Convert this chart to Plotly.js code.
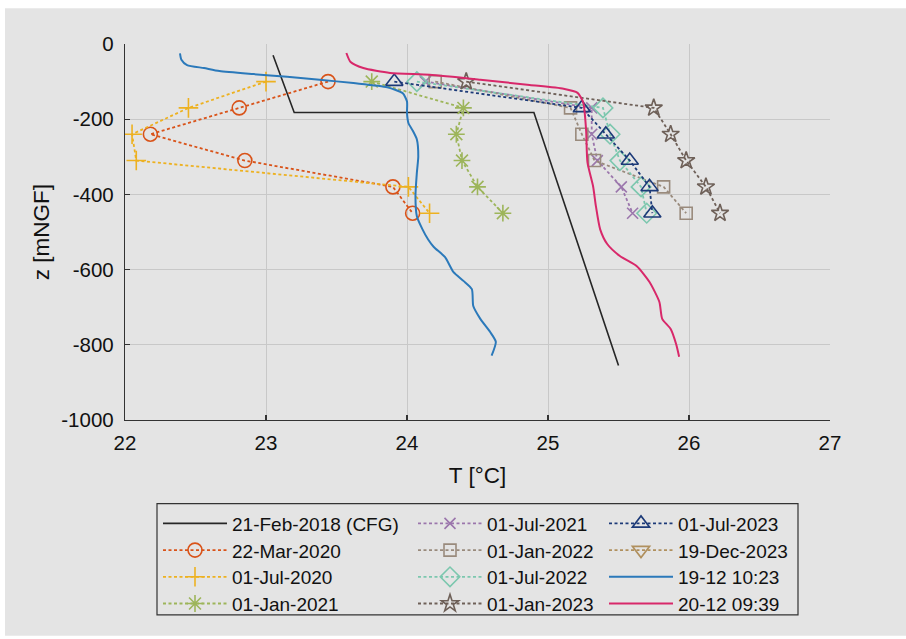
<!DOCTYPE html>
<html>
<head>
<meta charset="utf-8">
<script src="https://cdn.plot.ly/plotly-3.0.1.min.js"></script>
<style>
  html, body { margin: 0; padding: 0; background: #ffffff; }
  #chart { width: 906px; height: 639px; }
</style>
</head>
<body>
<div id="chart"></div>
<script>
// Temperature profiles in the borehole: T [°C] versus depth z [mNGF]

// CFG reference profile (21-Feb-2018)
const cfgTemp  = [23.05, 23.20, 24.90, 25.50];
const cfgDepth = [-30, -182, -182, -855];

// Discrete sampling campaigns, all at the same depths
const sampleDepth = [-100, -170, -240, -310, -380, -450];
const tMar2020 = [23.44, 22.81, 22.18, 22.85, 23.90, 24.04];
const tJul2020 = [23.00, 22.45, 22.05, 22.08, 24.01, 24.16];
const tJan2021 = [23.75, 24.40, 24.35, 24.39, 24.50, 24.68];
const tJul2021 = [24.13, 25.31, 25.31, 25.35, 25.52, 25.60];
const tJan2022 = [24.20, 25.16, 25.24, 25.33, 25.82, 25.98];
const tJul2022 = [24.07, 25.39, 25.44, 25.51, 25.66, 25.70];
const tJan2023 = [24.42, 25.75, 25.87, 25.98, 26.12, 26.22];
const tJul2023 = [23.91, 25.24, 25.41, 25.58, 25.72, 25.74];
// no usable reading for this campaign: legend entry only
const tDec2023 = [null];
const dDec2023 = [null];

// Continuous logs
const log1912Depth = [-25, -42, -56, -64, -72, -80, -87, -95, -104, -115, -131, -153, -184, -210,
                      -230, -254, -299, -342, -405, -458, -493, -520, -540, -567, -607, -630, -652,
                      -697, -731, -766, -792, -829];
const log1912Temp  = [22.39, 22.40, 22.44, 22.56, 22.67, 22.91, 23.15, 23.38, 23.62, 23.86, 23.97, 24.00,
                      24.00, 24.01, 24.04, 24.07, 24.08, 24.07, 24.06, 24.07, 24.11, 24.15, 24.19, 24.27,
                      24.33, 24.40, 24.46, 24.47, 24.52, 24.59, 24.63, 24.60];
const log2012Depth = [-24, -48, -64, -77, -82, -95, -109, -119, -130, -156, -228, -315, -379, -432,
                      -493, -532, -564, -591, -633, -686, -731, -758, -800, -832];
const log2012Temp  = [23.57, 23.60, 23.69, 23.88, 24.16, 24.52, 24.87, 25.11, 25.21, 25.25, 25.27, 25.28,
                      25.32, 25.34, 25.37, 25.42, 25.51, 25.63, 25.72, 25.79, 25.81, 25.87, 25.91, 25.93];

// Axis ticks
const xTicks = [22, 23, 24, 25, 26, 27];
const xTickText = ['22', '23', '24', '25', '26', '27'];
const yTicks = [0, -200, -400, -600, -800, -1000];
const yTickText = ['0', '-200', '-400', '-600', '-800', '-1000'];

// Plot-area geometry in pixels, used to place the legend columns and its frame
const W = 906, H = 639;
const M = { l: 125, r: 76, t: 44, b: 217 };
const PW = W - M.l - M.r, PH = H - M.t - M.b;
const px2x = p => (p - M.l) / PW;
const py2y = p => (H - M.b - p) / PH;

const DOT = '3px,2.5px';
function sampled(name, temps, depths, color, symbol, size, legend) {
  return {
    type: 'scatter', mode: 'lines+markers', name: name,
    x: temps, y: depths, legend: legend,
    line: { color: color, width: 1.8, dash: DOT },
    marker: { symbol: symbol, size: size, color: color, line: { color: color, width: 1.6 } }
  };
}

const traces = [
  { type: 'scatter', mode: 'lines', name: '21-Feb-2018 (CFG)', x: cfgTemp, y: cfgDepth,
    legend: 'legend', line: { color: '#262626', width: 1.6 } },
  sampled('22-Mar-2020', tMar2020, sampleDepth, '#D95319', 'circle-open', 14, 'legend'),
  sampled('01-Jul-2020', tJul2020, sampleDepth, '#EDB120', 'cross-thin-open', 14, 'legend'),
  sampled('01-Jan-2021', tJan2021, sampleDepth, '#9DB55A', 'asterisk-open', 14, 'legend'),
  sampled('01-Jul-2021', tJul2021, sampleDepth, '#9B76AC', 'x-thin-open', 11, 'legend2'),
  sampled('01-Jan-2022', tJan2022, sampleDepth, '#998A7C', 'square-open', 12, 'legend2'),
  sampled('01-Jul-2022', tJul2022, sampleDepth, '#7CC7AE', 'diamond-open', 15, 'legend2'),
  sampled('01-Jan-2023', tJan2023, sampleDepth, '#6E6058', 'star-open', 13, 'legend2'),
  sampled('01-Jul-2023', tJul2023, sampleDepth, '#1C3A78', 'triangle-up-open', 15, 'legend3'),
  sampled('19-Dec-2023', tDec2023, dDec2023, '#B0905E', 'triangle-down-open', 15, 'legend3'),
  { type: 'scatter', mode: 'lines', name: '19-12 10:23', x: log1912Temp, y: log1912Depth,
    legend: 'legend3', line: { color: '#2B79BA', width: 2, shape: 'spline', smoothing: 0.6 } },
  { type: 'scatter', mode: 'lines', name: '20-12 09:39', x: log2012Temp, y: log2012Depth,
    legend: 'legend3', line: { color: '#D8286A', width: 2, shape: 'spline', smoothing: 0.6 } }
];

const FONT = 'Liberation Sans, Arial, Helvetica, sans-serif';
const ITEM_W = 64;
const legendBase = {
  orientation: 'v', xanchor: 'left', yanchor: 'top',
  bgcolor: 'rgba(0,0,0,0)', borderwidth: 0, itemwidth: ITEM_W,
  font: { family: FONT, size: 19, color: '#111111' },
  itemclick: false, itemdoubleclick: false, tracegroupgap: 0
};

const layout = {
  width: W, height: H,
  margin: M,
  paper_bgcolor: '#ffffff',
  plot_bgcolor: '#e4e4e4',
  showlegend: true,
  font: { family: FONT, color: '#111111' },
  xaxis: {
    range: [22, 27], tickvals: xTicks, ticktext: xTickText,
    showgrid: true, gridcolor: '#c8c8c8', gridwidth: 1,
    showline: true, linecolor: '#333333', linewidth: 1.2,
    ticks: 'inside', ticklen: 5, tickcolor: '#333333', tickwidth: 1.2,
    zeroline: false, ticklabelstandoff: 4,
    tickfont: { family: FONT, size: 20.5, color: '#111111' },
    title: { text: 'T [°C]', font: { family: FONT, size: 22.5, color: '#111111' }, standoff: 14 }
  },
  yaxis: {
    range: [-1000, 0], tickvals: yTicks, ticktext: yTickText,
    showgrid: true, gridcolor: '#c8c8c8', gridwidth: 1,
    showline: true, linecolor: '#333333', linewidth: 1.2,
    ticks: 'inside', ticklen: 5, tickcolor: '#333333', tickwidth: 1.2,
    zeroline: false, ticklabelstandoff: 6,
    tickfont: { family: FONT, size: 20.5, color: '#111111' },
    title: { text: 'z [mNGF]', font: { family: FONT, size: 22.5, color: '#111111' }, standoff: 5 }
  },
  legend:  Object.assign({}, legendBase, { x: px2x(158), y: py2y(508) }),
  legend2: Object.assign({}, legendBase, { x: px2x(413), y: py2y(508) }),
  legend3: Object.assign({}, legendBase, { x: px2x(604), y: py2y(508) }),
  shapes: [
    // grey figure panel
    { type: 'rect', xref: 'paper', yref: 'paper', layer: 'below',
      x0: px2x(5), x1: px2x(W), y0: py2y(H), y1: py2y(8),
      fillcolor: '#e4e4e4', line: { width: 0 } },
    // legend frame
    { type: 'rect', xref: 'paper', yref: 'paper',
      x0: px2x(157), x1: px2x(798), y0: py2y(618), y1: py2y(506),
      fillcolor: 'rgba(0,0,0,0)', line: { color: '#333333', width: 1.2 } }
  ]
};

// Legend rows are packed on an even pitch in all three columns,
// and each marker sits in the middle of its line sample.
const ROW = 26.7;
function tidyLegends(gd) {
  gd.querySelectorAll('g.infolayer > g.legend, g.infolayer > g.legend2, g.infolayer > g.legend3').forEach(leg => {
    const items = leg.querySelectorAll('g.traces');
    let y0 = null;
    items.forEach((it, i) => {
      const m = /translate\(\s*([-\d.e]+)[ ,]+([-\d.e]+)\s*\)/.exec(it.getAttribute('transform') || '');
      if (!m) return;
      const x = parseFloat(m[1]);
      if (y0 === null) y0 = parseFloat(m[2]) - 1;
      it.setAttribute('transform', 'translate(' + x + ',' + (y0 + i * ROW) + ')');
      const ln = it.querySelector('g.legendlines path');
      if (ln) {
        const bb = ln.getBBox();
        const cx = bb.x + bb.width / 2;
        it.querySelectorAll('g.legendpoints path.scatterpts').forEach(p => {
          p.setAttribute('transform', 'translate(' + cx + ',0)');
        });
      }
    });
  });
}

Plotly.newPlot('chart', traces, layout, { staticPlot: true, displayModeBar: false })
  .then(gd => tidyLegends(gd));
</script>
</body>
</html>
